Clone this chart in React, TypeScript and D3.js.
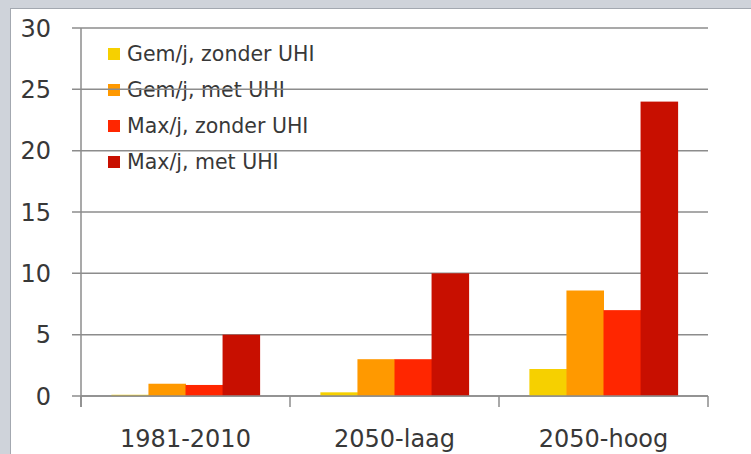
import React from "react";
import * as d3 from "d3";

const categories = ["1981-2010", "2050-laag", "2050-hoog"];
const seriesNames = ["Gem/j, zonder UHI", "Gem/j, met UHI", "Max/j, zonder UHI", "Max/j, met UHI"];
const gemZonder = [0.1, 0.3, 2.2];
const gemMet = [1.0, 3.0, 8.6];
const maxZonder = [0.9, 3.0, 7.0];
const maxMet = [5.0, 10.0, 24.0];
const yTicks = [0, 5, 10, 15, 20, 25, 30];
const colors = ["#f6d000", "#ff9900", "#ff2600", "#c80f00"];

const W = 751;
const H = 454;
const left = 81;
const right = 708;
const top = 28;
const bottom = 396;

export default function App() {
  const series = [gemZonder, gemMet, maxZonder, maxMet];
  const x0 = d3.scaleBand<string>().domain(categories).range([left, right]).paddingInner(0).paddingOuter(0);
  const x1 = d3
    .scaleBand<number>()
    .domain(d3.range(series.length))
    .range([0, x0.bandwidth()])
    .paddingOuter(0.82)
    .paddingInner(0);
  const y = d3.scaleLinear().domain([0, 30]).range([bottom, top]);
  const font = "'DejaVu Sans', sans-serif";
  const textColor = "#383838";
  const bounds = [left, ...categories.map((c) => (x0(c) as number) + x0.bandwidth())];

  return (
    <svg width={W} height={H} style={{ position: "absolute", left: 0, top: 0 }}>
      <rect x={0} y={0} width={W} height={H} fill="#cfd3da" />
      <rect x={10.5} y={8.5} width={W} height={H} fill="#ffffff" stroke="#a3a8b0" strokeWidth={1} />
      {/* legend */}
      {seriesNames.map((n, i) => (
        <g key={n} transform={`translate(0, ${54 + i * 36})`}>
          <rect x={108} y={-6} width={12} height={12} fill={colors[i]} />
          <text x={127} y={0} dy="0.36em" fontFamily={font} fontSize={20.5} fill={textColor}>
            {n}
          </text>
        </g>
      ))}
      {/* gridlines */}
      {yTicks.map((t) => (
        <g key={t}>
          <line x1={72} x2={right} y1={y(t)} y2={y(t)} stroke="#8c8c8c" strokeWidth={1.5} />
          <text x={51} y={y(t)} dy="0.36em" textAnchor="end" fontFamily={font} fontSize={24} fill={textColor}>
            {t}
          </text>
        </g>
      ))}
      {/* bars */}
      {categories.map((c, ci) => (
        <g key={c} transform={`translate(${x0(c)},0)`}>
          {series.map((s, si) => (
            <rect
              key={si}
              x={x1(si)}
              y={y(s[ci])}
              width={x1.bandwidth() + 0.5}
              height={bottom - y(s[ci])}
              fill={colors[si]}
            />
          ))}
        </g>
      ))}
      {/* axes */}
      <line x1={left} x2={left} y1={top} y2={407} stroke="#8c8c8c" strokeWidth={1.5} />
      <line x1={left} x2={right} y1={bottom} y2={bottom} stroke="#8c8c8c" strokeWidth={1.5} />
      {bounds.map((b, i) => (
        <line key={i} x1={b} x2={b} y1={bottom} y2={407} stroke="#8c8c8c" strokeWidth={1.5} />
      ))}
      {categories.map((c) => (
        <text
          key={c}
          x={(x0(c) as number) + x0.bandwidth() / 2}
          y={447}
          textAnchor="middle"
          fontFamily={font}
          fontSize={24}
          fill={textColor}
        >
          {c}
        </text>
      ))}
    </svg>
  );
}
